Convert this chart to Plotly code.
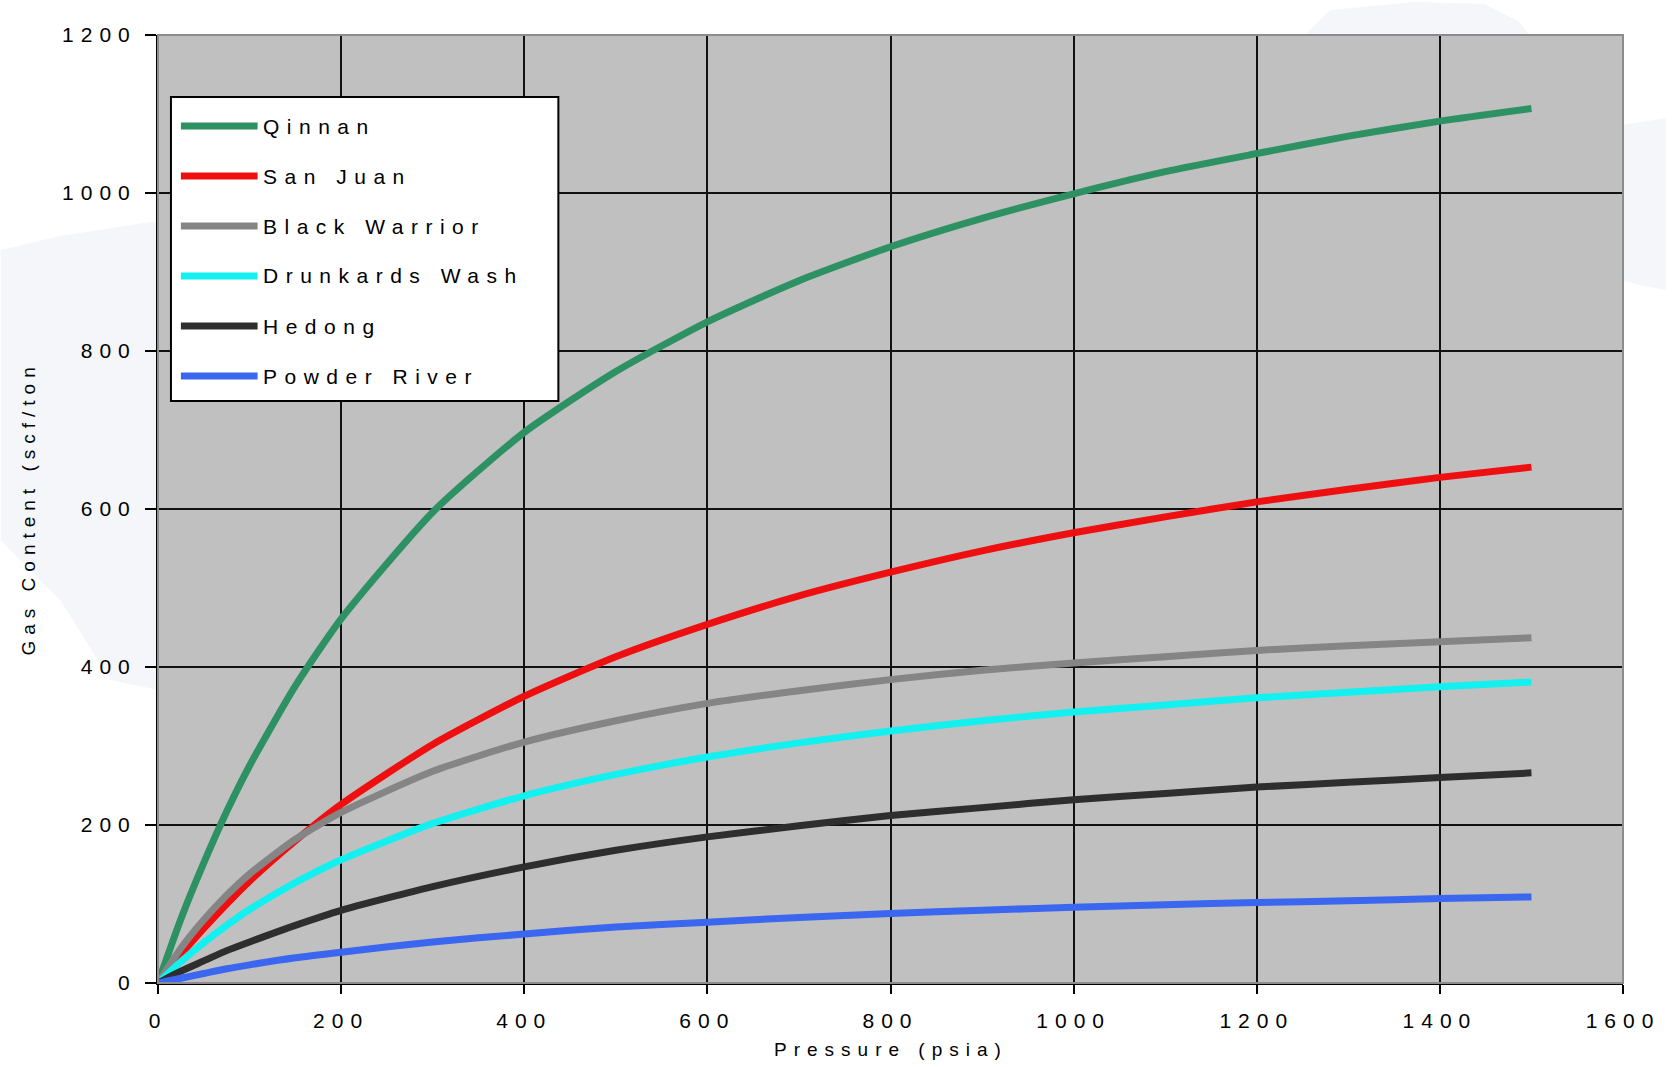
import plotly.graph_objects as go

# Pressure sample points (psia)
pressure = [0, 25, 50, 75, 100, 150, 200, 300, 400, 500, 600, 700, 800,
            900, 1000, 1100, 1200, 1300, 1400, 1500]

# Gas content (scf/ton) per basin
qinnan = [0, 81, 152, 217, 275, 376, 461, 596, 697, 774, 837, 889, 932,
          968, 999, 1027, 1050, 1072, 1091, 1107]
san_juan = [0, 36, 69, 100, 129, 180, 226, 302, 363, 413, 454, 490, 520,
            547, 570, 590, 609, 625, 640, 653]
black_warrior = [0, 44, 80, 111, 138, 182, 216, 268, 305, 332, 354, 370, 384,
                 396, 405, 413, 421, 427, 432, 437]
drunkards_wash = [0, 27, 51, 73, 93, 127, 156, 202, 237, 264, 286, 304, 319,
                  332, 343, 352, 361, 368, 375, 381]
hedong = [0, 15, 28, 41, 52, 73, 92, 122, 147, 168, 185, 199, 212,
          222, 232, 240, 248, 254, 260, 266]
powder_river = [0, 6, 12, 18, 23, 32, 39, 52, 62, 71, 77, 83, 88,
                92, 96, 99, 102, 104, 107, 109]

series_names = ["Qinnan", "San Juan", "Black Warrior", "Drunkards Wash",
                "Hedong", "Powder River"]
series_values = [qinnan, san_juan, black_warrior, drunkards_wash,
                 hedong, powder_river]
series_colors = ["#2e9163", "#ee1010", "#858585", "#12f0f0", "#2e2e2e", "#3a66f0"]

x_ticks = [0, 200, 400, 600, 800, 1000, 1200, 1400, 1600]
y_ticks = [0, 200, 400, 600, 800, 1000, 1200]

FONT = "Liberation Sans, Arial, sans-serif"


def spaced(text, ls):
    return f'<span style="letter-spacing:{ls}px">{text}</span>'


# Figure geometry in pixels
W, H = 1672, 1067
L, R, T, B = 158, 1629, 35, 983


def px_x(px):
    return (px - L) / (R - L)


def px_y(py):
    return (B - py) / (B - T)


def px_path(points):
    parts = [f"{'M' if i == 0 else 'L'}{px_x(x):.4f},{px_y(y):.4f}"
             for i, (x, y) in enumerate(points)]
    return " ".join(parts) + " Z"


fig = go.Figure()
for name, vals, col in zip(series_names, series_values, series_colors):
    fig.add_trace(go.Scatter(
        x=pressure, y=vals, mode="lines", name=name,
        line=dict(color=col, width=7, shape="spline", smoothing=0.6),
        showlegend=False,
    ))

shapes = []
annotations = []

# Very faint background cloud behind the margins
cloud = "#f4f6fa"
shapes.append(dict(type="path", xref="paper", yref="paper", layer="below",
                   path=px_path([(0, 250), (60, 236), (150, 222), (158, 222),
                                 (158, 690), (110, 680), (60, 600), (20, 560),
                                 (0, 540)]),
                   fillcolor=cloud, line=dict(width=0)))
shapes.append(dict(type="path", xref="paper", yref="paper", layer="below",
                   path=px_path([(1629, 125), (1672, 118), (1672, 290),
                                 (1645, 285), (1629, 280)]),
                   fillcolor=cloud, line=dict(width=0)))
shapes.append(dict(type="path", xref="paper", yref="paper", layer="below",
                   path=px_path([(1310, 35), (1335, 10), (1420, 2), (1490, 4),
                                 (1525, 22), (1535, 35)]),
                   fillcolor=cloud, line=dict(width=0)))

# Thin grey frame on the top and right edges of the plot area
shapes.append(dict(type="rect", xref="paper", yref="paper", x0=0, x1=1, y0=0, y1=1,
                   line=dict(color="#8c8c8c", width=2), layer="above"))

# Legend box
shapes.append(dict(type="rect", xref="paper", yref="paper",
                   x0=px_x(171), x1=px_x(560), y0=px_y(401), y1=px_y(97),
                   fillcolor="white", line=dict(color="black", width=2), layer="above"))
for i, (name, col) in enumerate(zip(series_names, series_colors)):
    row = 126 + 50 * i
    shapes.append(dict(type="line", xref="paper", yref="paper",
                       x0=px_x(181), x1=px_x(258), y0=px_y(row), y1=px_y(row),
                       line=dict(color=col, width=7), layer="above"))
    annotations.append(dict(xref="paper", yref="paper", x=px_x(261), y=px_y(row),
                            text=spaced(name, 7.5), showarrow=False,
                            xanchor="left", yanchor="middle",
                            font=dict(family=FONT, size=21, color="black")))

# Axis titles
annotations.append(dict(xref="paper", yref="paper", x=0.5, y=px_y(1049),
                        text=spaced("Pressure (psia)", 7), showarrow=False,
                        xanchor="center", yanchor="middle",
                        font=dict(family=FONT, size=19, color="black")))
annotations.append(dict(xref="paper", yref="paper", x=px_x(27), y=0.5,
                        text=spaced("Gas Content (scf/ton", 6), showarrow=False,
                        textangle=-90, xanchor="center", yanchor="middle",
                        font=dict(family=FONT, size=19, color="black")))

fig.update_layout(
    width=W, height=H,
    margin=dict(l=L, r=W - R, t=T, b=H - B),
    paper_bgcolor="white",
    plot_bgcolor="#c0c0c0",
    showlegend=False,
    shapes=shapes,
    annotations=annotations,
    font=dict(family=FONT, color="black"),
)

fig.update_xaxes(
    range=[0, 1600], tickvals=x_ticks, ticktext=[spaced(str(v), 7) for v in x_ticks],
    tickfont=dict(family=FONT, size=21, color="black"),
    showgrid=True, gridcolor="#111111", gridwidth=2,
    zeroline=False, showline=True, linecolor="black", linewidth=2,
    ticks="outside", ticklen=9, tickwidth=2, tickcolor="black",
    ticklabelstandoff=9,
)
fig.update_yaxes(
    range=[0, 1200], tickvals=y_ticks, ticktext=[spaced(str(v), 7) for v in y_ticks],
    tickfont=dict(family=FONT, size=21, color="black"),
    showgrid=True, gridcolor="#111111", gridwidth=2,
    zeroline=False, showline=True, linecolor="black", linewidth=2,
    ticks="outside", ticklen=11, tickwidth=2, tickcolor="black",
    ticklabelstandoff=4,
)

fig.write_html("out.html")
